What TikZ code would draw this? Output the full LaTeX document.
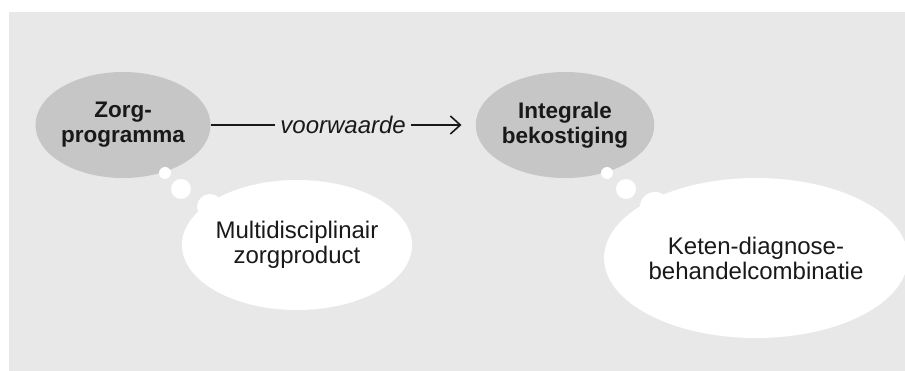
\documentclass[tikz,border=0pt]{standalone}
\usepackage{fontspec}
\setmainfont{Liberation Sans}
\usetikzlibrary{arrows.meta,shapes.geometric}
\definecolor{bg}{RGB}{232,232,232}
\definecolor{bub}{RGB}{198,198,198}
\definecolor{ink}{RGB}{25,25,25}
\begin{document}
\begin{tikzpicture}[x=1pt,y=-1pt,
  greybub/.style={ellipse, fill=bub, minimum width=156pt, minimum height=106pt, inner sep=0pt, align=center, text=ink, font=\fontsize{22.5}{25}\selectfont\bfseries},
  whitebub/.style={ellipse, fill=white, inner sep=0pt, align=center, text=ink, font=\fontsize{24}{25}\selectfont},
  dot/.style={circle, fill=white, inner sep=0pt},
  lbl/.style={fill=bg, inner xsep=5pt, inner ysep=2pt, text=ink, font=\fontsize{24}{25}\selectfont\itshape},
  conn/.style={draw=ink, line width=1.6pt, -{Straight Barb[length=10pt,width=18pt]}, shorten >=14pt}
  ]
\useasboundingbox (0,0) rectangle (905,371);
\fill[bg] (9,12) rectangle (905,371);
\node[greybub] (zorg) at (123,125) {Zorg-\\programma};
\node[greybub] (integ) at (565,125) {Integrale\\bekostiging};
\node[dot, minimum size=12pt] (z1) at (165,173) {};
\node[dot, minimum size=20pt] (z2) at (181,189) {};
\node[dot, minimum size=26pt] (z3) at (210,207) {};
\node[whitebub, minimum width=196pt, minimum height=130pt] (multi) at (297,245) {Multidisciplinair\\zorgproduct};
\node[dot, minimum size=12pt] (i1) at (607,173) {};
\node[dot, minimum size=20pt] (i2) at (626,189) {};
\node[dot, minimum size=30pt] (i3) at (655,207) {};
\node[whitebub, minimum width=242pt, minimum height=160pt] (keten) at (756,258) {Keten-diagnose-\\behandelcombinatie};
\draw[conn] (zorg.east) -- node[lbl, midway] {voorwaarde} (integ.west);
\end{tikzpicture}
\end{document}
